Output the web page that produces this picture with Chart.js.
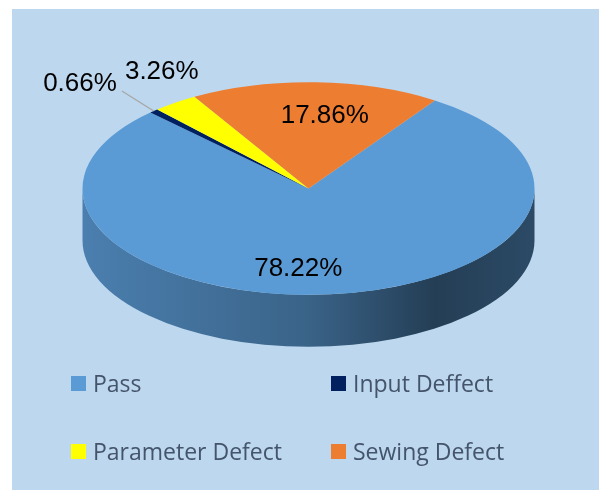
<!DOCTYPE html>
<html>
<head>
<meta charset="utf-8">
<script src="https://cdn.jsdelivr.net/npm/chart.js@4.4.1/dist/chart.umd.min.js"></script>
<style>
    html, body { margin: 0; padding: 0; background: #ffffff; }
    #wrap { width: 599px; height: 490px; }
</style>
</head>
<body>
<div id="wrap"><canvas id="qualityPie" width="599" height="490"></canvas></div>
<script>
// data
const categories = ['Pass', 'Input Deffect', 'Parameter Defect', 'Sewing Defect'];
const percentValues = [78.22, 0.66, 3.26, 17.86];
const sliceColors = ['#5B9BD5', '#002060', '#FFFF00', '#ED7D31'];

const TILT = 0.47;   // vertical squash of the top face
const DEPTH = 52;    // thickness of the pie side

function shade(hex, f) {
    const n = parseInt(hex.slice(1), 16);
    const r = Math.round(((n >> 16) & 255) * f);
    const g = Math.round(((n >> 8) & 255) * f);
    const b = Math.round((n & 255) * f);
    return 'rgb(' + r + ',' + g + ',' + b + ')';
}

const backgroundPlugin = {
    id: 'panel',
    beforeDraw(chart) {
        const ctx = chart.ctx;
        ctx.save();
        ctx.fillStyle = '#BDD7EE';
        ctx.fillRect(12, 9, chart.width - 12, chart.height - 9);
        ctx.restore();
    }
};

// draws the side wall, then squashes the pie into an ellipse
const tiltPlugin = {
    id: 'tilt',
    beforeDatasetsDraw(chart) {
        const ctx = chart.ctx;
        const meta = chart.getDatasetMeta(0);
        const first = meta.data[0];
        const cx = first.x, cy = first.y, R = first.outerRadius;

        meta.data.forEach(function (arc, i) {
            let s = arc.startAngle, e = arc.endAngle;
            while (s < 0) { s += Math.PI * 2; e += Math.PI * 2; }
            // only the front half of the wall shows
            [[0, Math.PI], [Math.PI * 2, Math.PI * 3]].forEach(function (w) {
                const a1 = Math.max(s, w[0]), a2 = Math.min(e, w[1]);
                if (a2 <= a1) return;
                const grad = ctx.createLinearGradient(cx - R, 0, cx + R, 0);
                const col = sliceColors[i];
                grad.addColorStop(0, shade(col, 0.82));
                grad.addColorStop(0.5, shade(col, 0.64));
                grad.addColorStop(0.78, shade(col, 0.40));
                grad.addColorStop(1, shade(col, 0.48));
                ctx.save();
                ctx.beginPath();
                ctx.ellipse(cx, cy, R, R * TILT, 0, a1, a2, false);
                ctx.ellipse(cx, cy + DEPTH, R, R * TILT, 0, a2, a1, true);
                ctx.closePath();
                ctx.fillStyle = grad;
                ctx.fill();
                ctx.restore();
            });
        });

        ctx.save();
        ctx.translate(cx, cy);
        ctx.scale(1, TILT);
        ctx.translate(-cx, -cy);
    },
    afterDatasetsDraw(chart) {
        chart.ctx.restore();
    }
};

// percentage labels
const labelPlugin = {
    id: 'pctLabels',
    afterDatasetsDraw(chart) {
        const ctx = chart.ctx;
        const meta = chart.getDatasetMeta(0);
        const nudge = [[-25, 4], [0, 0], [20, -9], [11, 4]];
        ctx.save();
        ctx.font = '26px "Liberation Sans", Arial, sans-serif';
        ctx.fillStyle = '#000000';
        ctx.textAlign = 'center';
        ctx.textBaseline = 'middle';
        meta.data.forEach(function (arc, i) {
            const mid = (arc.startAngle + arc.endAngle) / 2;
            const R = arc.outerRadius;
            const f = percentValues[i] > 10 ? 0.72 : 1.25;
            let x = arc.x + Math.cos(mid) * R * f + nudge[i][0];
            let y = arc.y + Math.sin(mid) * R * f * TILT + nudge[i][1];
            const txt = percentValues[i].toFixed(2) + '%';
            if (percentValues[i] < 1) {
                // tiny slice: label pushed aside with a leader line
                const ex = arc.x + Math.cos(mid) * R;
                const ey = arc.y + Math.sin(mid) * R * TILT;
                x = 80; y = 84;
                ctx.strokeStyle = '#A6A6A6';
                ctx.lineWidth = 1.2;
                ctx.beginPath();
                ctx.moveTo(x + ctx.measureText(txt).width / 2 + 5, y + 7);
                ctx.lineTo(ex, ey);
                ctx.stroke();
            }
            ctx.fillText(txt, x, y);
        });
        ctx.restore();
    }
};

// two-column legend like the original
const legendPlugin = {
    id: 'gridLegend',
    afterDraw(chart) {
        const ctx = chart.ctx;
        const colX = [71, 331];
        const rowY = [384, 452];
        ctx.save();
        ctx.font = '23px "Open Sans", "Noto Sans", sans-serif';
        ctx.textBaseline = 'middle';
        ctx.textAlign = 'left';
        categories.forEach(function (name, i) {
            const x = colX[i % 2], y = rowY[Math.floor(i / 2)];
            ctx.fillStyle = sliceColors[i];
            ctx.fillRect(x, y - 8, 15, 15);
            ctx.fillStyle = '#44546A';
            ctx.fillText(name, x + 22, y + 1);
        });
        ctx.restore();
    }
};

const qualityPie = document.getElementById('qualityPie');
new Chart(qualityPie, {
    type: 'pie',
    data: {
        labels: categories,
        datasets: [{
            label: 'Quality',
            data: percentValues,
            backgroundColor: sliceColors,
            borderWidth: 0,
            clip: false
        }]
    },
    options: {
        responsive: false,
        animation: false,
        radius: 226,
        rotation: 34,
        layout: {
            padding: { left: 18, right: 0, top: 0, bottom: 113 }
        },
        plugins: {
            legend: { display: false },
            tooltip: { enabled: false }
        }
    },
    plugins: [backgroundPlugin, tiltPlugin, labelPlugin, legendPlugin]
});
</script>
</body>
</html>
